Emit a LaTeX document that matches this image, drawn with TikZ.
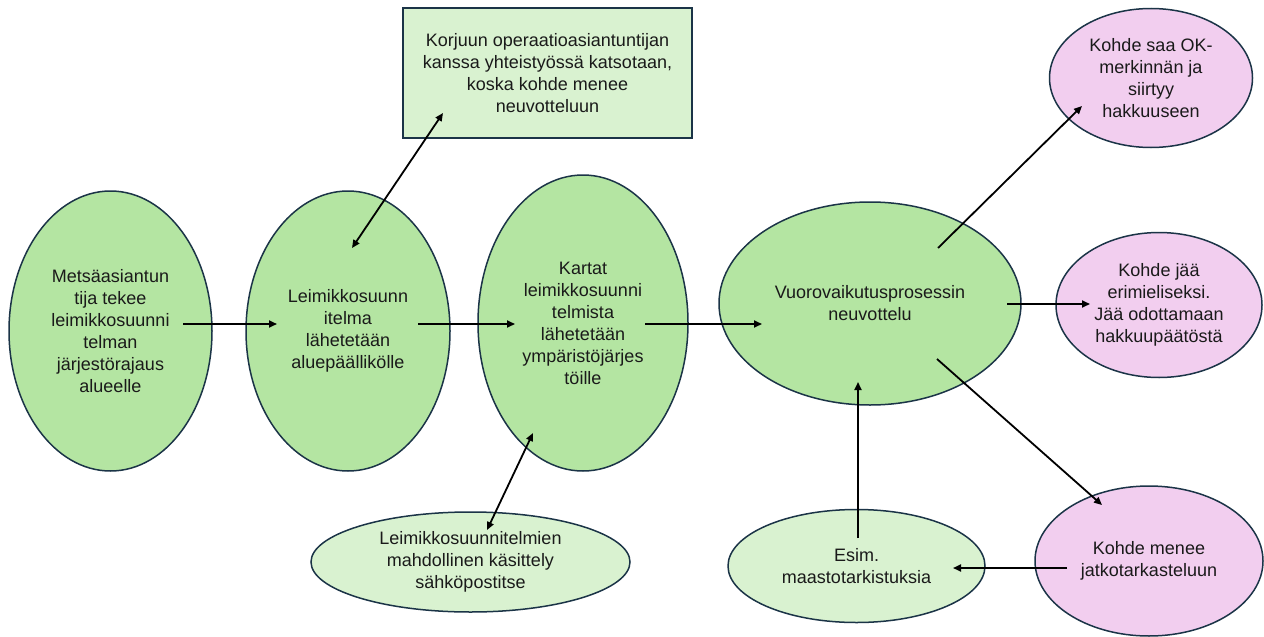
\documentclass[tikz,border=0pt]{standalone}
\usepackage{fontspec}
\setmainfont{Liberation Sans}
\usetikzlibrary{shapes.geometric,arrows.meta}
\definecolor{gfill}{HTML}{B4E5A2}
\definecolor{lgfill}{HTML}{D9F2D0}
\definecolor{pfill}{HTML}{F2CEEF}
\definecolor{outl}{HTML}{1B3447}
\definecolor{txt}{HTML}{1A1A1A}
\tikzset{
  base/.style={draw=outl, line width=1.5pt, inner sep=0pt, align=center, text=txt,
    font=\fontsize{18}{22}\selectfont},
  gell/.style={base, ellipse, fill=gfill},
  lgell/.style={base, ellipse, fill=lgfill},
  pell/.style={base, ellipse, fill=pfill},
  gbox/.style={base, rectangle, fill=lgfill},
  arr/.style={-{Triangle[length=8pt,width=7pt]}, line width=1.8pt, black},
  darr/.style={{Triangle[length=8pt,width=7pt]}-{Triangle[length=8pt,width=7pt]}, line width=1.8pt, black}
}
\begin{document}
\begin{tikzpicture}[x=1pt,y=-1pt]
\useasboundingbox[fill=white] (0,0) rectangle (1264,637);
\node[gell, minimum width=203, minimum height=280] (A) at (110.5,331)
  {Metsäasiantun\\tija tekee\\leimikkosuunni\\telman\\järjestörajaus\\alueelle};
\node[gell, minimum width=204, minimum height=280] (B) at (348,331)
  {Leimikkosuunn\\itelma\\lähetetään\\aluepäällikölle};
\node[gell, minimum width=210, minimum height=296] (C) at (583,323)
  {Kartat\\leimikkosuunni\\telmista\\lähetetään\\ympäristöjärjes\\töille};
\node[gell, minimum width=302, minimum height=203] (D) at (870,303.5)
  {Vuorovaikutusprosessin\\neuvottelu};
\node[gbox, minimum width=289, minimum height=130] (T) at (547.5,73)
  {Korjuun operaatioasiantuntijan\\kanssa yhteistyössä katsotaan,\\koska kohde menee\\neuvotteluun};
\node[lgell, minimum width=319, minimum height=100] (E) at (470.5,562)
  {Leimikkosuunnitelmien\\mahdollinen käsittely\\sähköpostitse};
\node[lgell, minimum width=257, minimum height=113] (F) at (856.5,566)
  {Esim.\\maastotarkistuksia};
\node[pell, minimum width=203, minimum height=139] (P1) at (1151,78)
  {Kohde saa OK-\\merkinnän ja\\siirtyy\\hakkuuseen};
\node[pell, minimum width=206, minimum height=145] (P2) at (1159,305)
  {Kohde jää\\erimieliseksi.\\Jää odottamaan\\hakkuupäätöstä};
\node[pell, minimum width=228, minimum height=150] (P3) at (1149,561)
  {Kohde menee\\jatkotarkasteluun};

\draw[arr] ([shift={(72.5,-7)}]A.center) -- ([shift={(-71,-7)}]B.center);
\draw[arr] ([shift={(70,-7)}]B.center) -- ([shift={(-68,1)}]C.center);
\draw[arr] ([shift={(62,1)}]C.center) -- ([shift={(-108,20.5)}]D.center);
\draw[darr] ([shift={(4,-83)}]B.center) -- ([shift={(-104.5,40)}]T.center);
\draw[darr] ([shift={(16.5,-32)}]E.center) -- ([shift={(-50,110)}]C.center);
\draw[arr] ([shift={(1.5,-28)}]F.center) -- ([shift={(-12,78.5)}]D.center);
\draw[arr] ([shift={(68,-55.5)}]D.center) -- ([shift={(-69,28)}]P1.center);
\draw[arr] ([shift={(137,0.5)}]D.center) -- ([shift={(-69,-1)}]P2.center);
\draw[arr] ([shift={(67,55.5)}]D.center) -- ([shift={(-47,-56)}]P3.center);
\draw[arr] ([shift={(-82,7)}]P3.center) -- ([shift={(96.5,2)}]F.center);
\end{tikzpicture}
\end{document}
